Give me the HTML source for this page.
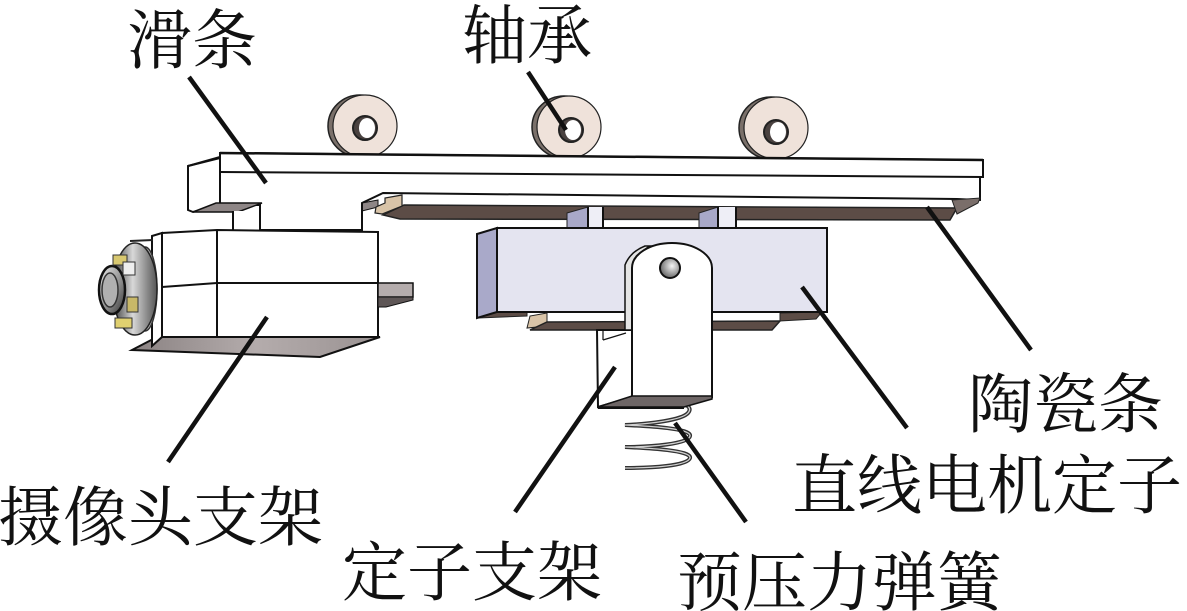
<!DOCTYPE html>
<html>
<head>
<meta charset="utf-8">
<style>
  html,body{margin:0;padding:0;background:#fff;}
  svg{display:block;}
  text{font-family:"Liberation Serif","Noto Serif CJK SC","Noto Serif CJK JP","Noto Serif CJK TC","Noto Serif SC","AR PL UMing CN","IPAMincho","Noto Sans CJK SC",serif;font-size:65px;fill:#111;}
</style>
</head>
<body>
<svg width="1187" height="611" viewBox="0 0 1187 611" xmlns="http://www.w3.org/2000/svg">
  <defs>
    <linearGradient id="ring" x1="0" y1="0" x2="1" y2="0">
      <stop offset="0" stop-color="#3a3a3a"/>
      <stop offset="0.45" stop-color="#d8d8d8"/>
      <stop offset="1" stop-color="#555"/>
    </linearGradient>
    <linearGradient id="lens" x1="0" y1="0" x2="1" y2="1">
      <stop offset="0" stop-color="#eee"/>
      <stop offset="0.6" stop-color="#888"/>
      <stop offset="1" stop-color="#333"/>
    </linearGradient>
    <linearGradient id="bot" x1="0" y1="0" x2="1" y2="0">
      <stop offset="0" stop-color="#8a8282"/>
      <stop offset="0.5" stop-color="#b4acac"/>
      <stop offset="1" stop-color="#9a9292"/>
    </linearGradient>
    <radialGradient id="hole" cx="0.6" cy="0.4" r="0.7">
      <stop offset="0" stop-color="#f4f4f4"/>
      <stop offset="1" stop-color="#555"/>
    </radialGradient>
  </defs>

  <!-- Bearings -->
  <g stroke="#222">
    <ellipse cx="360" cy="126" rx="32" ry="31" fill="#7a706a" stroke-width="1.5"/>
    <ellipse cx="365" cy="126" rx="32" ry="31" fill="#efe2da" stroke-width="1.2"/>
    <ellipse cx="365" cy="128" rx="12" ry="12" fill="#4a4240" stroke-width="2"/>
    <ellipse cx="367" cy="128" rx="8" ry="10" fill="#fff" stroke="none"/>

    <ellipse cx="564" cy="127" rx="32" ry="31" fill="#7a706a" stroke-width="1.5"/>
    <ellipse cx="569" cy="127" rx="32" ry="31" fill="#efe2da" stroke-width="1.2"/>
    <ellipse cx="571" cy="130" rx="12" ry="12" fill="#4a4240" stroke-width="2"/>
    <ellipse cx="573" cy="130" rx="8" ry="10" fill="#fff" stroke="none"/>

    <ellipse cx="771" cy="128" rx="32" ry="31" fill="#7a706a" stroke-width="1.5"/>
    <ellipse cx="776" cy="128" rx="32" ry="31" fill="#efe2da" stroke-width="1.2"/>
    <ellipse cx="776" cy="132" rx="12" ry="12" fill="#4a4240" stroke-width="2"/>
    <ellipse cx="778" cy="132" rx="8" ry="10" fill="#fff" stroke="none"/>
  </g>

  <!-- Slide bar -->
  <g stroke="#111" stroke-width="2" fill="#fff">
    <polygon points="220,153 983,160 983,177 980,177 980,200 957,199 383,193 362,203 362,230 260,230 260,205 220,205"/>
    <line x1="220" y1="172" x2="983" y2="177"/>
    <line x1="220" y1="153" x2="983" y2="160" stroke-width="2.5"/>
    <polygon points="188,166 220,158 220,205 193,212 188,210"/>
    <line x1="188" y1="166" x2="220" y2="157"/>
  </g>
  <polygon points="193,212 216,203 262,203 238,212" fill="#8e8686" stroke="#111" stroke-width="1.5"/>
  <rect x="233" y="211" width="27" height="20" fill="#fff"/>
  <line x1="233" y1="211" x2="233" y2="231" stroke="#111" stroke-width="2"/>
  <line x1="260" y1="204" x2="260" y2="231" stroke="#111" stroke-width="2"/>
  <polygon points="362,203 378,200 378,207 362,211" fill="#8e8686" stroke="#111" stroke-width="1"/>
  <line x1="362" y1="203" x2="362" y2="231" stroke="#111" stroke-width="2"/>

  <!-- ceramic strip under bar -->
  <polygon points="383,215 404,205 957,208 950,220 400,219" fill="#5c4c46" stroke="#222" stroke-width="1.5"/>
  <polygon points="375,213 376,207 385,203 385,198 402,195 402,206 382,214" fill="#d9c4a8" stroke="#222" stroke-width="1.2"/>
  <polygon points="952,200 980,198 978,203 957,214" fill="#7a6e6a" stroke="#222" stroke-width="1"/>

  <!-- connectors bar -> stator -->
  <polygon points="567,213 588,207 588,229 567,229" fill="#a8a8c8" stroke="#222" stroke-width="1"/>
  <rect x="588" y="207" width="15" height="22" fill="#eeeef6"/>
  <line x1="588" y1="207" x2="588" y2="229" stroke="#111" stroke-width="2"/>
  <line x1="603" y1="207" x2="603" y2="229" stroke="#111" stroke-width="2"/>
  <polygon points="699,213 718,207 718,229 699,229" fill="#a8a8c8" stroke="#222" stroke-width="1"/>
  <rect x="718" y="207" width="18" height="22" fill="#eeeef6"/>
  <line x1="718" y1="207" x2="718" y2="229" stroke="#111" stroke-width="2"/>
  <line x1="736" y1="207" x2="736" y2="229" stroke="#111" stroke-width="2"/>

  <!-- Camera mount -->
  <polygon points="132,350 157,337 380,337 320,357" fill="url(#bot)" stroke="#111" stroke-width="2"/>
  <polygon points="152,236 162,233 162,337 152,346" fill="#fff" stroke="#111" stroke-width="2"/>
  <polygon points="162,233 217,230 378,232 378,337 162,337" fill="#fff" stroke="#111" stroke-width="2"/>
  <line x1="217" y1="230" x2="217" y2="337" stroke="#111" stroke-width="2"/>
  <polyline points="162,287 217,283 378,283" fill="none" stroke="#111" stroke-width="2"/>
  <polygon points="378,283 413,283 413,297 378,297" fill="#b4acac" stroke="#111" stroke-width="1.5"/>
  <polygon points="378,297 413,297 413,300 386,307 378,307" fill="#5e5656" stroke="#111" stroke-width="1"/>

  <!-- lens -->
  <line x1="130" y1="241" x2="153" y2="240" stroke="#222" stroke-width="2"/>
  <ellipse cx="145" cy="289" rx="12" ry="42" fill="#b8b8b8" stroke="#333" stroke-width="1.5"/>
  <ellipse cx="135" cy="289" rx="22" ry="46" fill="url(#ring)" stroke="#222" stroke-width="1.5"/>
  <ellipse cx="112" cy="290" rx="13" ry="24" fill="url(#lens)" stroke="#111" stroke-width="2.5"/>
  <ellipse cx="110" cy="290" rx="8" ry="17" fill="#b0b0b0" stroke="#333" stroke-width="1.5"/>
  <rect x="113" y="255" width="14" height="10" fill="#d8c870" stroke="#333" stroke-width="1"/>
  <rect x="123" y="262" width="12" height="13" fill="#eeeeee" stroke="#333" stroke-width="1"/>
  <rect x="127" y="297" width="11" height="15" fill="#c8b868" stroke="#333" stroke-width="1"/>
  <rect x="115" y="318" width="17" height="10" fill="#e0d070" stroke="#333" stroke-width="1"/>

  <!-- Stator box -->
  <polygon points="478,318 497,312 527,312 527,316" fill="#5c4c46" stroke="#222" stroke-width="1"/>
  <polygon points="527,328 530,316 547,313 547,326" fill="#d9c4a8" stroke="#222" stroke-width="1"/>
  <polygon points="530,330 547,322 780,321 772,330" fill="#5c4c46" stroke="#222" stroke-width="1.5"/>
  <polygon points="780,313 822,312 816,319 780,321" fill="#5c4c46" stroke="#222" stroke-width="1"/>
  <polygon points="477,234 497,228 497,312 477,318" fill="#a9a9c9" stroke="#111" stroke-width="2"/>
  <rect x="497" y="228" width="330" height="84" fill="#e4e4f0" stroke="#111" stroke-width="2"/>

  <!-- Stator bracket -->
  <polygon points="597,330 632,330 632,397 598,407" fill="#fff" stroke="#111" stroke-width="2"/>
  <line x1="603" y1="340" x2="626" y2="333" stroke="#111" stroke-width="1.2"/>
  <line x1="603" y1="330" x2="603" y2="340" stroke="#111" stroke-width="1.2"/>
  <path d="M625,330 L625,265 Q630,252 645,246 L650,246 Q636,254 632,268 L632,330 Z" fill="#e4e4e4" stroke="#111" stroke-width="1.5"/>
  <path d="M632,397 L632,268 A40,25 0 0 1 712,268 L712,397 Z" fill="#fff" stroke="#111" stroke-width="2"/>
  <circle cx="670" cy="268" r="10" fill="url(#hole)" stroke="#111" stroke-width="2"/>

  <!-- spring -->
  <path d="M630,402 C680,398 695,405 688,413 C682,420 650,424 625,425 C645,426 692,428 690,436 C689,444 650,447 625,447 C645,448 692,450 690,458 C688,466 650,468 625,468"
        fill="none" stroke="#333" stroke-width="4"/>
  <path d="M630,402 C680,398 695,405 688,413 C682,420 650,424 625,425 C645,426 692,428 690,436 C689,444 650,447 625,447 C645,448 692,450 690,458 C688,466 650,468 625,468"
        fill="none" stroke="#d0d0d0" stroke-width="1.3"/>
  <polygon points="598,407 632,396 712,396 712,399 684,407" fill="#6e6666" stroke="#111" stroke-width="1.5"/>
  <line x1="598" y1="408" x2="684" y2="408" stroke="#111" stroke-width="2"/>

  <!-- Leader lines -->
  <g stroke="#111" stroke-width="4.5" stroke-linecap="butt">
    <line x1="189" y1="77" x2="266" y2="183"/>
    <line x1="528" y1="72" x2="566" y2="130"/>
    <line x1="927" y1="207" x2="1031" y2="350"/>
    <line x1="802" y1="287" x2="907" y2="428"/>
    <line x1="267" y1="317" x2="168" y2="462"/>
    <line x1="615" y1="367" x2="515" y2="512"/>
    <line x1="675" y1="423" x2="746" y2="522"/>
  </g>

  <!-- Labels -->
  <text x="127" y="63">滑条</text>
  <text x="462" y="58">轴承</text>
  <text x="968" y="427">陶瓷条</text>
  <text x="792" y="508">直线电机定子</text>
  <text x="-2" y="540">摄像头支架</text>
  <text x="342" y="595">定子支架</text>
  <text x="677" y="605">预压力弹簧</text>
</svg>
</body>
</html>
